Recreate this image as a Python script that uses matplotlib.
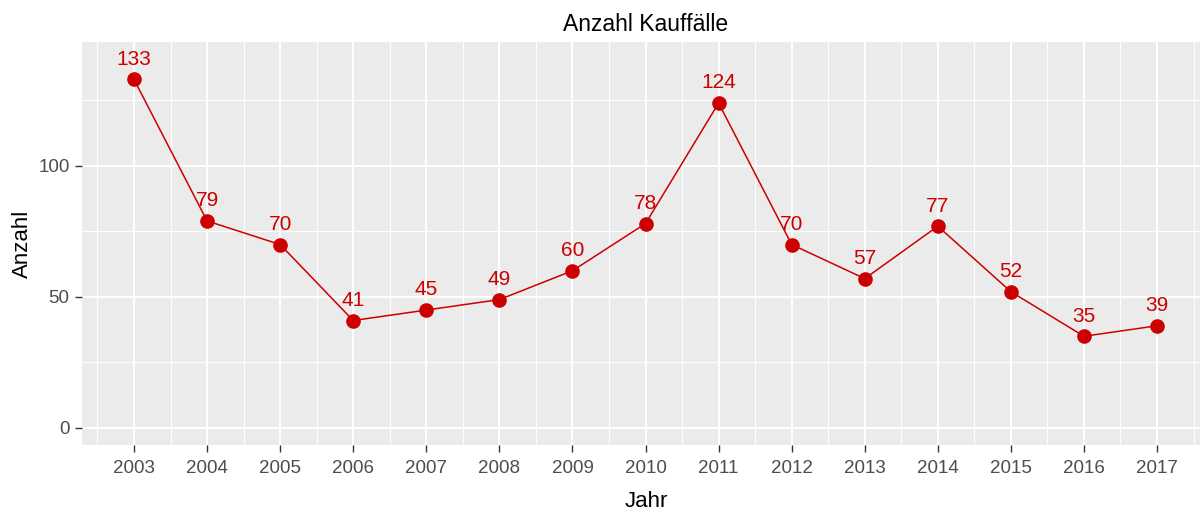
import numpy as np
import matplotlib.pyplot as plt

plt.rcParams['font.family'] = ['Liberation Sans', 'DejaVu Sans']

years = list(range(2003, 2018))
counts = [133, 79, 70, 41, 45, 49, 60, 78, 124, 70, 57, 77, 52, 35, 39]
red = '#CC0000'

fig = plt.figure(figsize=(12, 5.13), dpi=100)
ax = fig.add_axes([82 / 1200, 68 / 513, 1128 / 1200, 403 / 513])
ax.set_facecolor('#EBEBEB')

ax.set_xlim(2002.288, 2017.725)
ax.set_ylim(-6.5, 147.3)

ax.set_yticks([0, 50, 100])
ax.set_yticks([25, 75, 125], minor=True)
ax.set_xticks(years)
ax.set_xticks(np.arange(2002.5, 2018, 1), minor=True)

ax.grid(which='major', color='white', linewidth=1.4)
ax.grid(which='minor', color='white', linewidth=0.7)
ax.set_axisbelow(True)
for s in ax.spines.values():
    s.set_visible(False)

ax.tick_params(which='major', length=5, width=1, color='#333333',
               labelsize=13.5, labelcolor='#4D4D4D')
ax.tick_params(axis='x', which='major', pad=6)
ax.tick_params(axis='y', which='major', pad=4)
ax.tick_params(which='minor', length=0)

ax.plot(years, counts, color=red, linewidth=1.1, zorder=3)
ax.plot(years, counts, 'o', color=red, markersize=9.5, zorder=4)
for x, y in zip(years, counts):
    ax.annotate(str(y), (x, y), xytext=(0, 10.5), textcoords='offset points',
                ha='center', va='baseline', color=red, fontsize=15)

ax.set_xlabel('Jahr', fontsize=16, labelpad=10)
ax.set_ylabel('Anzahl', fontsize=16, labelpad=4)
ax.set_title('Anzahl Kauffälle', fontsize=16.5, pad=8)

fig.savefig('out.png', dpi=100)
